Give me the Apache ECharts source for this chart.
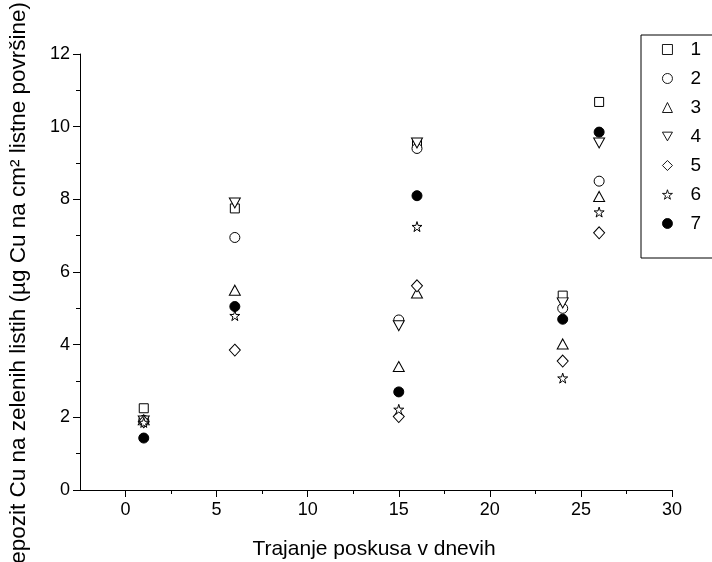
<!DOCTYPE html>
<html><head><meta charset="utf-8">
<script src="https://cdn.jsdelivr.net/npm/echarts@6/dist/echarts.min.js"></script>
<style>html,body{margin:0;padding:0;background:#fff}#c{width:712px;height:562px}</style>
</head><body><div id="c"></div>
<script>
const xDays = [1, 6, 15, 16, 24, 26];
const seriesNames = ['1', '2', '3', '4', '5', '6', '7'];
const s1 = [2.25, 7.75, null, 9.52, 5.35, 10.68];
const s2 = [1.92, 6.95, 4.68, 9.40, 5.00, 8.50];
const s3 = [1.93, 5.50, 3.40, 5.42, 4.02, 8.08];
const s4 = [1.90, 7.90, 4.52, 9.55, 5.15, 9.55];
const s5 = [1.88, 3.85, 2.02, 5.62, 3.55, 7.08];
const s6 = [1.86, 4.80, 2.22, 7.25, 3.08, 7.65];
const s7 = [1.43, 5.05, 2.70, 8.10, 4.70, 9.85];
const xMajorTicks = [0, 5, 10, 15, 20, 25, 30];
const xMinorTicks = [2.5, 7.5, 12.5, 17.5, 22.5, 27.5];
const xTitle = 'Trajanje poskusa v dnevih';
const yTitle = 'Depozit Cu na zelenih listih (µg Cu na cm² listne površine)';

const allValues = [s1, s2, s3, s4, s5, s6, s7];
const FONT = 'Arial, "Liberation Sans", sans-serif';
const starPath = 'path://M50,0 L61,35 L98,35 L68,57 L79,91 L50,70 L21,91 L32,57 L2,35 L39,35 Z';
const downTri = 'path://M0,0 L100,0 L50,87 Z';
const symbols = ['rect', 'circle', 'triangle', downTri, 'diamond', starPath, 'circle'];
const sizes = [[9, 9], 10, [11, 10], [11, 10], [11, 12], [10, 10], 10];

const series = seriesNames.map((n, i) => ({
  name: n,
  type: 'scatter',
  xAxisIndex: 0,
  symbol: symbols[i],
  symbolSize: sizes[i],
  itemStyle: i === 6 ? {color: '#000', borderColor: '#000', borderWidth: 1, opacity: 1}
                     : {color: '#fff', borderColor: '#000', borderWidth: 1, opacity: 1},
  data: xDays.map((d, k) => allValues[i][k] == null ? null : [d, allValues[i][k]]).filter(p => p)
}));

const chart = echarts.init(document.getElementById('c'));
chart.setOption({
  animation: false,
  backgroundColor: '#fff',
  textStyle: {fontFamily: FONT},
  grid: {left: 80, right: 40, top: 54, bottom: 72, containLabel: false},
  legend: {
    orient: 'vertical',
    left: 641, top: 35,
    padding: [5, 20, 25, 21],
    itemWidth: 10, itemHeight: 10,
    itemGap: 10,
    borderColor: '#000', borderWidth: 1,
    itemStyle: {borderWidth: 0.9, opacity: 1},
    textStyle: {fontFamily: FONT, fontSize: 19, color: '#000', lineHeight: 17, padding: [0, 0, 0, 13]},
    data: seriesNames
  },
  graphic: [{
    type: 'text',
    x: 19, y: 291, rotation: Math.PI / 2,
    style: {text: yTitle, fontFamily: FONT, fontSize: 22.5, fill: '#000', align: 'center', verticalAlign: 'middle'}
  }, {
    type: 'text',
    x: 374, y: 549,
    style: {text: xTitle, fontFamily: FONT, fontSize: 21, fill: '#000', align: 'center', verticalAlign: 'middle'}
  }],
  xAxis: [{
    type: 'value', min: -2.5, max: 30,
    axisLine: {show: true, onZero: false, lineStyle: {color: '#000', width: 1}},
    axisTick: {show: true, length: 7, customValues: xMajorTicks, lineStyle: {color: '#000'}},
    axisLabel: {show: true, customValues: xMajorTicks, fontSize: 18, color: '#000', margin: 11, fontFamily: FONT},
    splitLine: {show: false}
  }, {
    type: 'value', min: -2.5, max: 30, position: 'bottom',
    axisLine: {show: false},
    axisTick: {show: true, length: 4, customValues: xMinorTicks, lineStyle: {color: '#000'}},
    axisLabel: {show: false},
    splitLine: {show: false}
  }],
  yAxis: {
    type: 'value', min: 0, max: 12, interval: 2,
    axisLine: {show: true, onZero: false, lineStyle: {color: '#000', width: 1}},
    axisTick: {show: true, length: 7, lineStyle: {color: '#000'}},
    minorTick: {show: true, splitNumber: 2, length: 4, lineStyle: {color: '#000'}},
    axisLabel: {fontSize: 18, color: '#000', margin: 10, fontFamily: FONT},
    splitLine: {show: false}
  },
  series: series
});
</script></body></html>
